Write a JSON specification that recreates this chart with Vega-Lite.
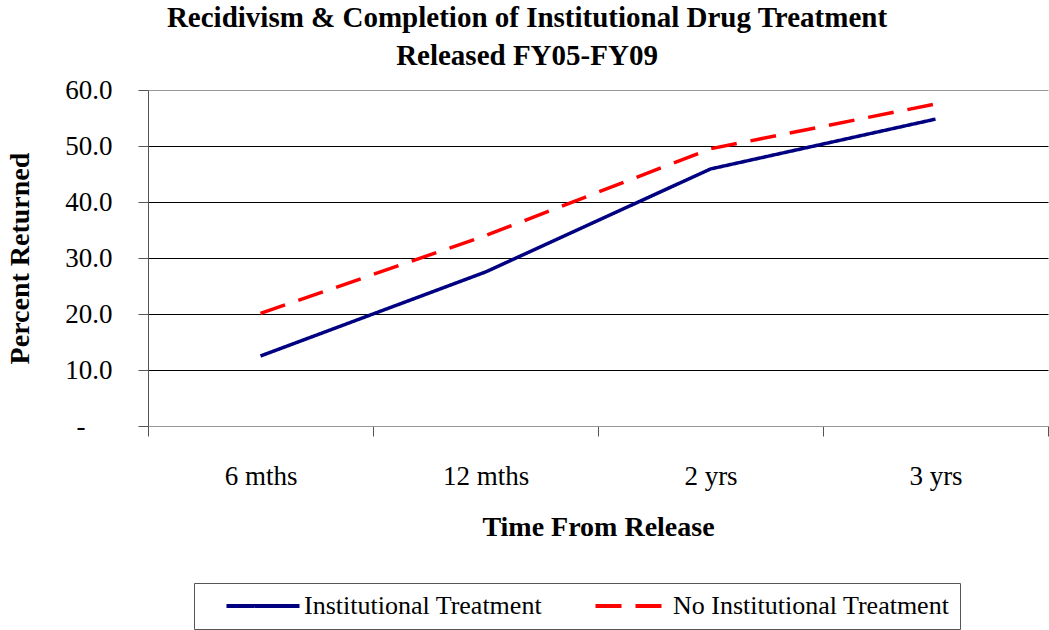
{
  "$schema": "https://vega.github.io/schema/vega-lite/v6.json",
  "width": 900,
  "height": 336,
  "autosize": {"type": "none"},
  "padding": {"left": 148, "top": 90, "right": 1, "bottom": 204},
  "background": "white",
  "config": {"view": {"stroke": null}, "font": "Liberation Serif"},
  "title": {
    "text": ["Recidivism & Completion of Institutional Drug Treatment", "Released FY05-FY09"],
    "font": "Liberation Serif",
    "fontSize": 29,
    "fontWeight": "bold",
    "color": "black",
    "anchor": "middle",
    "dx": -71,
    "offset": 5,
    "lineHeight": 38
  },
  "data": {
    "values": [
      {"time": "6 mths", "series": "Institutional Treatment", "pct": 12.5},
      {"time": "12 mths", "series": "Institutional Treatment", "pct": 27.5},
      {"time": "2 yrs", "series": "Institutional Treatment", "pct": 45.9},
      {"time": "3 yrs", "series": "Institutional Treatment", "pct": 54.8},
      {"time": "6 mths", "series": "No Institutional Treatment", "pct": 20.1},
      {"time": "12 mths", "series": "No Institutional Treatment", "pct": 34.0},
      {"time": "2 yrs", "series": "No Institutional Treatment", "pct": 49.5},
      {"time": "3 yrs", "series": "No Institutional Treatment", "pct": 57.5}
    ]
  },
  "mark": {"type": "line", "strokeWidth": 3.5},
  "encoding": {
    "x": {
      "field": "time",
      "type": "nominal",
      "sort": ["6 mths", "12 mths", "2 yrs", "3 yrs"],
      "scale": {"type": "band", "paddingInner": 0, "paddingOuter": 0},
      "axis": {
        "title": "Time From Release",
        "labelAngle": 0,
        "tickBand": "extent",
        "tickSize": 10,
        "tickColor": "#555",
        "domainColor": "#999",
        "labelFont": "Liberation Serif",
        "labelFontSize": 27,
        "labelColor": "black",
        "labelPadding": 27,
        "titleFont": "Liberation Serif",
        "titleFontSize": 28,
        "titleFontWeight": "bold",
        "titleColor": "black",
        "titlePadding": 24,
        "grid": false
      }
    },
    "y": {
      "field": "pct",
      "type": "quantitative",
      "scale": {"domain": [0, 60]},
      "axis": {
        "title": "Percent Returned",
        "values": [0, 10, 20, 30, 40, 50, 60],
        "labelExpr": "datum.value === 0 ? '-' : format(datum.value, '.1f')",
        "labelFont": "Liberation Serif",
        "labelFontSize": 27,
        "labelColor": "black",
        "labelPadding": {"condition": {"test": "datum.value === 0", "value": 53}, "value": 26},
        "tickSize": 10,
        "tickColor": "#555",
        "domainColor": "#555",
        "grid": true,
        "gridColor": {"condition": {"test": "datum.value === 0 || datum.value === 60", "value": "#999"}, "value": "black"},
        "gridOpacity": 1,
        "titleFont": "Liberation Serif",
        "titleFontSize": 28,
        "titleFontWeight": "bold",
        "titleColor": "black",
        "titlePadding": 30
      }
    },
    "color": {
      "field": "series",
      "type": "nominal",
      "scale": {"domain": ["Institutional Treatment", "No Institutional Treatment"], "range": ["#000080", "#FF0000"]},
      "legend": {
        "title": null,
        "orient": "none",
        "legendX": 46,
        "legendY": 493,
        "direction": "horizontal",
        "strokeColor": "#555",
        "padding": 10,
        "labelFont": "Liberation Serif",
        "labelFontSize": 26,
        "labelColor": "black",
        "labelLimit": 400,
        "labelOffset": 28,
        "symbolType": "M-4,0H4",
        "symbolSize": 333,
        "symbolStrokeWidth": 4,
        "symbolOffset": 46,
        "columnPadding": 30
      }
    },
    "strokeDash": {
      "field": "series",
      "type": "nominal",
      "scale": {"domain": ["Institutional Treatment", "No Institutional Treatment"], "range": [[1, 0], [26, 14]]},
      "legend": {
        "title": null,
        "orient": "none",
        "legendX": 46,
        "legendY": 493,
        "direction": "horizontal",
        "strokeColor": "#555",
        "padding": 10,
        "labelFont": "Liberation Serif",
        "labelFontSize": 26,
        "labelColor": "black",
        "labelLimit": 400,
        "labelOffset": 28,
        "symbolType": "M-4,0H4",
        "symbolSize": 333,
        "symbolStrokeWidth": 4,
        "symbolOffset": 46,
        "columnPadding": 30
      }
    }
  }
}
